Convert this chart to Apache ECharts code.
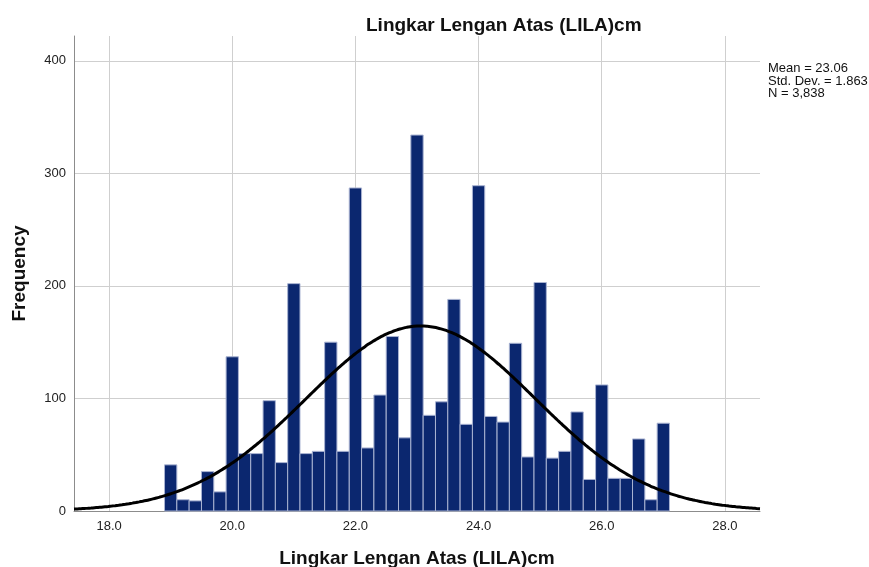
<!DOCTYPE html>
<html>
<head>
<meta charset="utf-8">
<script src="https://cdn.jsdelivr.net/npm/echarts@6/dist/echarts.min.js"></script>
<style>
    html, body { margin: 0; padding: 0; background: #fff; }
    #chart { width: 869px; height: 567px; }
</style>
</head>
<body>
<div id="chart"></div>
<script>
// histogram bins (width 0.2, centres 19.0 ... 27.0)
const binCenters = [19.0, 19.2, 19.4, 19.6, 19.8, 20.0, 20.2, 20.4, 20.6, 20.8,
    21.0, 21.2, 21.4, 21.6, 21.8, 22.0, 22.2, 22.4, 22.6, 22.8,
    23.0, 23.2, 23.4, 23.6, 23.8, 24.0, 24.2, 24.4, 24.6, 24.8,
    25.0, 25.2, 25.4, 25.6, 25.8, 26.0, 26.2, 26.4, 26.6, 26.8, 27.0];
const frequencies = [41, 10, 9, 35, 17, 137, 51, 51, 98, 43,
    202, 51, 53, 150, 53, 287, 56, 103, 155, 65,
    334, 85, 97, 188, 77, 289, 84, 79, 149, 48,
    203, 47, 53, 88, 28, 112, 29, 29, 64, 10, 78];
const binWidth = 0.2;

// summary stats shown at the right
const mean = 23.06;
const stdDev = 1.863;
const n = 3838;

const xTicks = [18, 20, 22, 24, 26, 28];
const yTicks = [0, 100, 200, 300, 400];
const xMin = 17.43;
const xMax = 28.57;

// fitted normal curve (SPSS style), scaled to counts per bin
const curvePoints = [];
for (let i = 0; i <= 200; i++) {
    const x = xMin + (xMax - xMin) * i / 200;
    const z = (x - mean) / stdDev;
    const y = n * binWidth / (stdDev * Math.sqrt(2 * Math.PI)) * Math.exp(-0.5 * z * z);
    curvePoints.push([x, y]);
}

const barData = binCenters.map((c, i) => [c, frequencies[i]]);

const option = {
    animation: false,
    textStyle: { fontFamily: "Liberation Sans, Arial, sans-serif" },
    title: {
        text: "Lingkar Lengan Atas (LILA)cm",
        left: 361,
        top: 11,
        textStyle: { fontSize: 19, fontWeight: "bold", color: "#111" },
    },
    grid: { left: 74, right: 109, top: 36, bottom: 56, outerBoundsMode: "none" },
    xAxis: {
        type: "value",
        min: xMin,
        max: xMax,
        name: "Lingkar Lengan Atas (LILA)cm",
        nameLocation: "middle",
        nameGap: 38,
        nameTextStyle: { fontSize: 19, fontWeight: "bold", color: "#111" },
        axisLine: { show: true, lineStyle: { color: "#8c8c8c", width: 1 } },
        axisTick: { show: false, customValues: xTicks },
        axisLabel: {
            customValues: xTicks,
            color: "#222",
            fontSize: 13,
            margin: 9,
            formatter: (v) => v.toFixed(1),
        },
        splitLine: { show: true, lineStyle: { color: "#cfcfcf", width: 1 } },
    },
    yAxis: {
        type: "value",
        min: 0,
        max: 422,
        name: "Frequency",
        nameLocation: "middle",
        nameGap: 45,
        nameTextStyle: { fontSize: 19, fontWeight: "bold", color: "#111" },
        axisLine: { show: true, lineStyle: { color: "#8c8c8c", width: 1 } },
        axisTick: { show: false, customValues: yTicks },
        axisLabel: { customValues: yTicks, color: "#222", fontSize: 13, margin: 8 },
        splitLine: { show: true, lineStyle: { color: "#cfcfcf", width: 1 } },
    },
    graphic: [
        {
            type: "text",
            left: 768,
            top: 62,
            style: {
                text: "Mean = " + mean.toFixed(2) + "\nStd. Dev. = " + stdDev.toFixed(3) + "\nN = 3,838",
                font: "13px Liberation Sans, Arial, sans-serif",
                fill: "#111",
                lineHeight: 12.5,
            },
        },
    ],
    series: [
        {
            type: "custom",
            data: barData,
            renderItem: function (params, api) {
                const c = api.value(0);
                const f = api.value(1);
                const p0 = api.coord([c - binWidth / 2, f]);
                const p1 = api.coord([c + binWidth / 2, 0]);
                return {
                    type: "rect",
                    shape: { x: p0[0], y: p0[1], width: p1[0] - p0[0], height: p1[1] - p0[1] },
                    style: { fill: "#0b276f", stroke: "#a9b3d2", lineWidth: 1 },
                };
            },
            z: 2,
        },
        {
            type: "line",
            data: curvePoints,
            showSymbol: false,
            smooth: true,
            lineStyle: { color: "#000", width: 3 },
            z: 3,
        },
    ],
};

const myChart = echarts.init(document.getElementById("chart"));
myChart.setOption(option);
</script>
</body>
</html>
